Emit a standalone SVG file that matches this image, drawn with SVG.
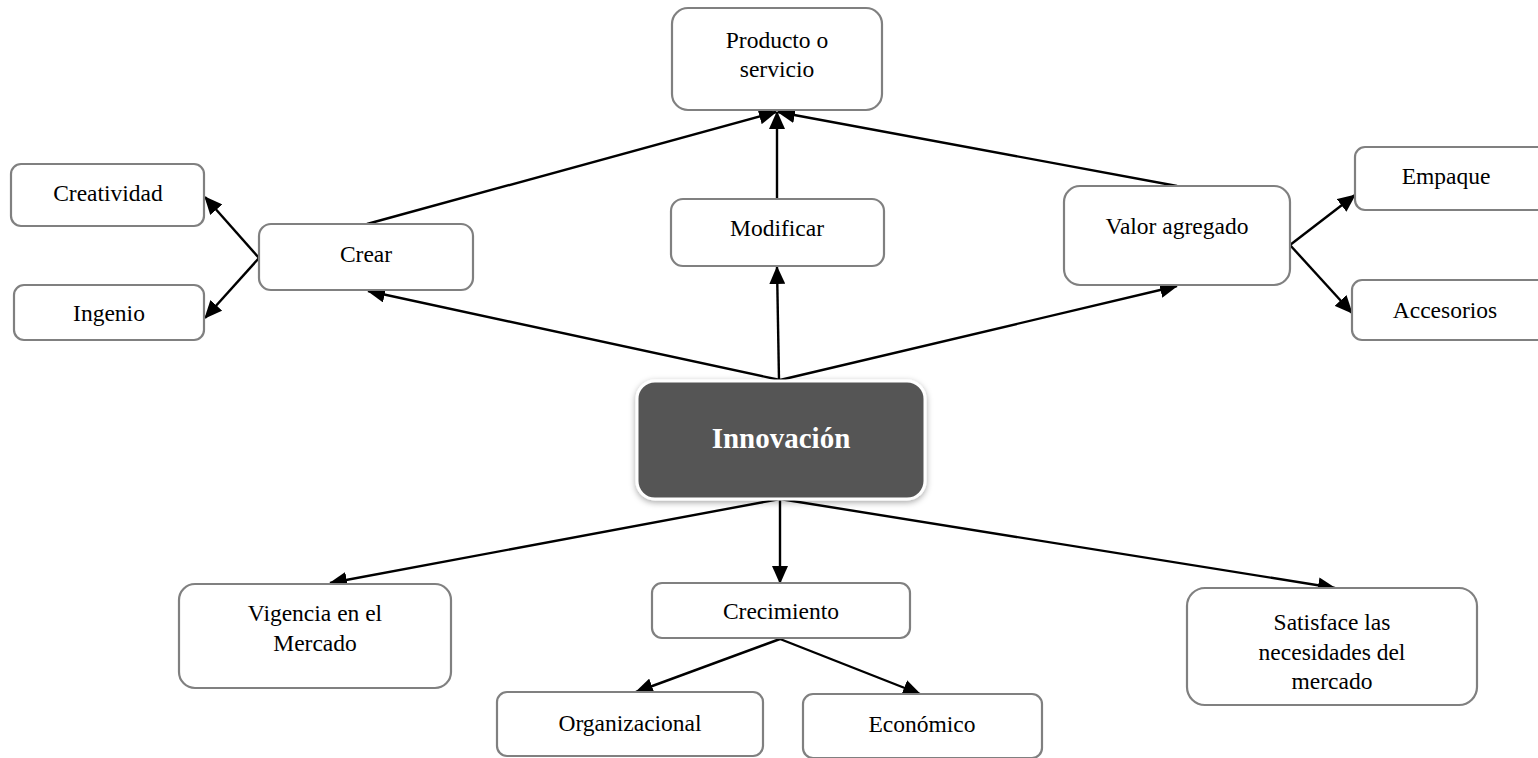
<svg xmlns="http://www.w3.org/2000/svg" width="1538" height="758" viewBox="0 0 1538 758">
  <style>
    .box { fill: #ffffff; stroke: #808080; stroke-width: 2.2; }
    .lbl { font-family: "Liberation Serif", "Times New Roman", serif; font-size: 23.5px; fill: #000; text-anchor: middle; }
    .edge { stroke: #000; stroke-width: 2.4; fill: none; }
    .arr { marker-end: url(#head); }
    .main { font-family: "Liberation Serif", "Times New Roman", serif; font-size: 29px; font-weight: bold; fill: #fff; text-anchor: middle; }
  </style>
  <defs>
    <marker id="head" markerWidth="18" markerHeight="16" refX="17" refY="8" orient="auto" markerUnits="userSpaceOnUse">
      <path d="M0,0 L18,8 L0,16 Z" fill="#000"/>
    </marker>
    <filter id="shadow" x="-10%" y="-10%" width="120%" height="130%">
      <feDropShadow dx="0" dy="2" stdDeviation="3" flood-color="#000" flood-opacity="0.35"/>
    </filter>
  </defs>
  <rect width="1538" height="758" fill="#ffffff"/>

  <g id="connectors">
    <line class="edge arr" x1="780" y1="380" x2="368" y2="291"/>
    <line class="edge arr" x1="779" y1="380" x2="777" y2="267"/>
    <line class="edge arr" x1="780" y1="380" x2="1177" y2="286"/>
    <line class="edge arr" x1="367" y1="224" x2="776" y2="112"/>
    <line class="edge arr" x1="777" y1="199" x2="777" y2="112"/>
    <line class="edge arr" x1="1177" y1="186" x2="778" y2="112"/>
    <line class="edge arr" x1="259" y1="258" x2="205" y2="197"/>
    <line class="edge arr" x1="259" y1="258" x2="205" y2="318"/>
    <line class="edge arr" x1="1290" y1="245" x2="1355" y2="195"/>
    <line class="edge arr" x1="1290" y1="245" x2="1352" y2="313"/>
    <line class="edge arr" x1="780" y1="499" x2="330" y2="583"/>
    <line class="edge arr" x1="780" y1="499" x2="780" y2="583"/>
    <line class="edge arr" x1="780" y1="499" x2="1335" y2="588"/>
    <line class="edge arr" x1="780" y1="639" x2="636" y2="692"/>
    <line class="edge arr" x1="780" y1="639" x2="920" y2="694"/>
  </g>

  <g id="producto">
    <rect class="box" x="672" y="8" width="210" height="102" rx="16"/>
    <text class="lbl" x="777" y="48">Producto o</text>
    <text class="lbl" x="777" y="77">servicio</text>
  </g>
  <g id="creatividad">
    <rect class="box" x="11" y="164" width="193" height="62" rx="10"/>
    <text class="lbl" x="108" y="201">Creatividad</text>
  </g>
  <g id="ingenio">
    <rect class="box" x="14" y="285" width="190" height="55" rx="10"/>
    <text class="lbl" x="109" y="321">Ingenio</text>
  </g>
  <g id="crear">
    <rect class="box" x="259" y="224" width="214" height="66" rx="12"/>
    <text class="lbl" x="366" y="262">Crear</text>
  </g>
  <g id="modificar">
    <rect class="box" x="671" y="199" width="213" height="67" rx="12"/>
    <text class="lbl" x="777" y="236">Modificar</text>
  </g>
  <g id="valor">
    <rect class="box" x="1064" y="186" width="226" height="99" rx="16"/>
    <text class="lbl" x="1177" y="234">Valor agregado</text>
  </g>
  <g id="empaque">
    <rect class="box" x="1355" y="147" width="200" height="63" rx="10"/>
    <text class="lbl" x="1446" y="184">Empaque</text>
  </g>
  <g id="accesorios">
    <rect class="box" x="1352" y="280" width="200" height="60" rx="10"/>
    <text class="lbl" x="1445" y="318">Accesorios</text>
  </g>
  <g id="innovacion">
    <rect x="637" y="381" width="288" height="118" rx="18" fill="#555555" stroke="#ffffff" stroke-width="3" filter="url(#shadow)"/>
    <text class="main" x="781" y="448">Innovación</text>
  </g>
  <g id="vigencia">
    <rect class="box" x="179" y="584" width="272" height="104" rx="16"/>
    <text class="lbl" x="315" y="621">Vigencia en el</text>
    <text class="lbl" x="315" y="651">Mercado</text>
  </g>
  <g id="crecimiento">
    <rect class="box" x="652" y="583" width="258" height="55" rx="10"/>
    <text class="lbl" x="781" y="619">Crecimiento</text>
  </g>
  <g id="organizacional">
    <rect class="box" x="497" y="692" width="266" height="64" rx="10"/>
    <text class="lbl" x="630" y="731">Organizacional</text>
  </g>
  <g id="economico">
    <rect class="box" x="803" y="694" width="239" height="64" rx="10"/>
    <text class="lbl" x="922" y="732">Económico</text>
  </g>
  <g id="satisface">
    <rect class="box" x="1187" y="588" width="290" height="117" rx="18"/>
    <text class="lbl" x="1332" y="630">Satisface las</text>
    <text class="lbl" x="1332" y="660">necesidades del</text>
    <text class="lbl" x="1332" y="689">mercado</text>
  </g>
</svg>
